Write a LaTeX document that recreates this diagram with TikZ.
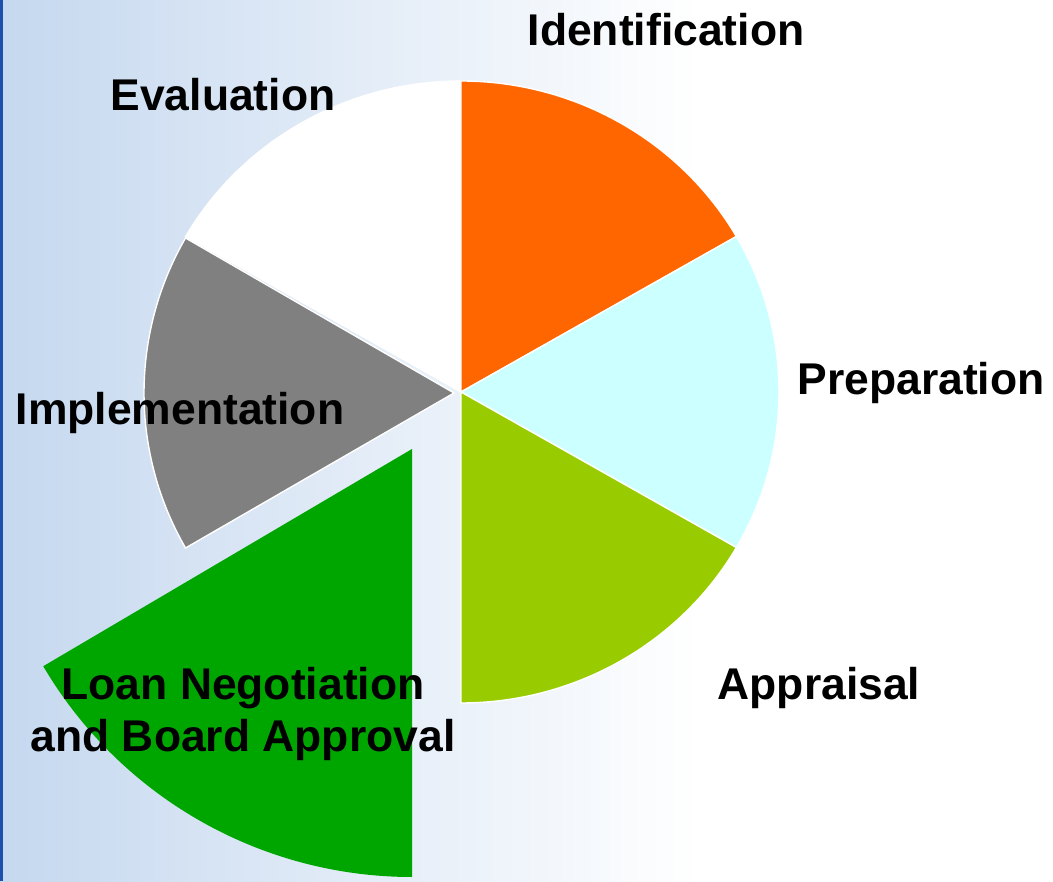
\documentclass[tikz,border=0pt]{standalone}
\usepackage{fontspec}
\setmainfont{Liberation Sans}
\definecolor{identorange}{RGB}{255,102,0}
\definecolor{prepcyan}{RGB}{204,255,255}
\definecolor{apprlime}{RGB}{153,204,0}
\definecolor{loangreen}{RGB}{0,166,0}
\definecolor{implgray}{RGB}{128,128,128}
\definecolor{bgblue}{RGB}{197,216,239}
\definecolor{barblue}{RGB}{31,79,168}
\tikzset{
  slice/.style={draw=white, line width=0.8pt},
  phase/.style={font=\fontsize{25.3}{29.6}\selectfont\bfseries, align=center, inner sep=0pt}
}
\begin{document}
\begin{tikzpicture}[x=0.02cm, y=0.02cm]
  \useasboundingbox (0,0) rectangle (1053,881);
  \shade[left color=bgblue, right color=white] (0,0) rectangle (700,881);
  \fill[white] (700,0) rectangle (1053,881);
  \fill[barblue] (0,0) rectangle (3,881);
  \coordinate (c) at (461,489);
  \coordinate (g) at (454,488);
  \coordinate (l) at (412,432);
  \fill[white, slice] (c) -- +(90:318 and 311) arc[start angle=90, end angle=150, x radius=318, y radius=311] -- cycle;
  \fill[identorange, slice] (c) -- +(30:318 and 311) arc[start angle=30, end angle=90, x radius=318, y radius=311] -- cycle;
  \fill[prepcyan, slice] (c) -- +(-30:318 and 311) arc[start angle=-30, end angle=30, x radius=318, y radius=311] -- cycle;
  \fill[apprlime, slice] (c) -- +(-90:318 and 311) arc[start angle=-90, end angle=-30, x radius=318, y radius=311] -- cycle;
  \fill[implgray, slice] (g) -- +(150:310) arc[start angle=150, end angle=210, radius=310] -- cycle;
  \fill[loangreen] (l) -- +(210.5:428) arc[start angle=210.5, end angle=270, radius=428] -- cycle;
  \node[phase] (identification) at (666,851) {Identification};
  \node[phase] (preparation) at (921,498) {Preparation};
  \node[phase] (appraisal) at (819,193) {Appraisal};
  \node[phase] (loan) at (243,167) {Loan Negotiation\\and Board Approval};
  \node[phase] (implementation) at (180,468) {Implementation};
  \node[phase] (evaluation) at (223,786) {Evaluation};
\end{tikzpicture}
\end{document}
